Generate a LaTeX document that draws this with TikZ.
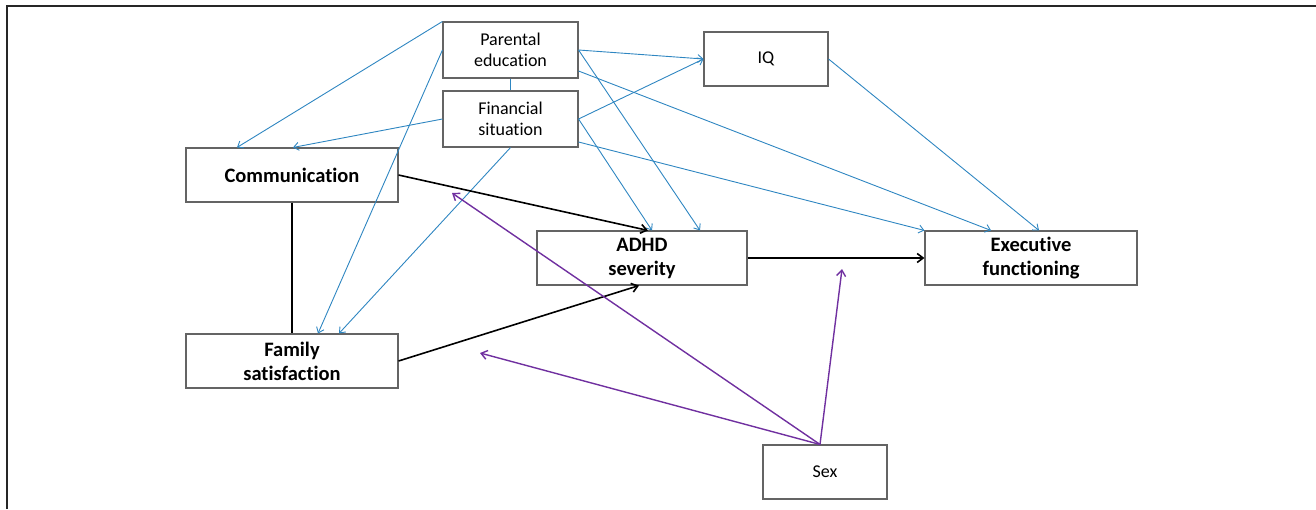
\documentclass[tikz,border=0pt]{standalone}
\usepackage{fontspec}
\setmainfont[Ligatures=NoCommon]{Carlito}
\usetikzlibrary{arrows.meta,calc}
\definecolor{lnblue}{RGB}{46,134,193}
\definecolor{lnpurple}{RGB}{112,48,160}
\definecolor{boxgray}{RGB}{100,100,100}
\begin{document}
\begin{tikzpicture}[x=1pt,y=-1pt,
  varbox/.style={draw=boxgray,line width=1.1pt,align=center,inner sep=0pt},
  regtext/.style={font=\fontsize{18}{21}\selectfont},
  boldtext/.style={font=\fontsize{20.5}{24}\selectfont\bfseries},
  bluearrow/.style={draw=lnblue,line width=0.9pt,-{Straight Barb[length=5pt,width=8pt]}},
  blueline/.style={draw=lnblue,line width=1.4pt},
  blackarrow/.style={draw=black,line width=1.6pt,-{Straight Barb[length=6pt,width=9pt]}},
  blackline/.style={draw=black,line width=1.4pt},
  purplearrow/.style={draw=lnpurple,line width=1.4pt,-{Straight Barb[length=6pt,width=9pt]}},
  frameline/.style={draw=black!85,line width=2pt}]
\useasboundingbox (0,0) rectangle (1316,509);
\draw[frameline] (7,509) -- (7,6) -- (1316,6);

\node[varbox,regtext,minimum width=135,minimum height=56] (pe) at (510.5,50) {Parental\\education};
\node[varbox,regtext,minimum width=135,minimum height=56] (fs) at (510.5,119) {Financial\\situation};
\node[varbox,regtext,minimum width=124,minimum height=54] (iq) at (766,59) {IQ};
\node[varbox,boldtext,minimum width=212,minimum height=54] (com) at (292,175) {Communication};
\node[varbox,boldtext,minimum width=210,minimum height=54] (adhd) at (642,258) {ADHD\\severity};
\node[varbox,boldtext,minimum width=212,minimum height=54] (ef) at (1031,258) {Executive\\functioning};
\node[varbox,boldtext,minimum width=212,minimum height=54] (fam) at (292,361) {Family\\satisfaction};
\node[varbox,regtext,minimum width=124,minimum height=54] (sex) at (825,472) {Sex};

% blue paths
\draw[blueline] (pe.south) -- (fs.north);
\draw[bluearrow] (pe.north west) -- ([xshift=-55pt]com.north);
\draw[bluearrow] (pe.west) -- ([xshift=26pt]fam.north);
\draw[bluearrow] (fs.west) -- ([xshift=1pt]com.north);
\draw[bluearrow] (fs.south) -- ([xshift=47pt]fam.north);
\draw[bluearrow] (pe.east) -- (iq.west);
\draw[bluearrow] (pe.east) -- ([xshift=58pt]adhd.north);
\draw[bluearrow] ([yshift=-21pt]pe.east) -- ([xshift=-40pt]ef.north);
\draw[bluearrow] (fs.east) -- (iq.west);
\draw[bluearrow] (fs.east) -- ([xshift=10pt]adhd.north);
\draw[bluearrow] ([yshift=-23pt]fs.east) -- (ef.north west);
\draw[bluearrow] (iq.east) -- ([xshift=8pt]ef.north);

% black paths
\draw[blackline] (com.south) -- (fam.north);
\draw[blackarrow] (com.east) -- ([xshift=6pt]adhd.north);
\draw[blackarrow] (fam.east) -- ([xshift=-3pt]adhd.south);
\draw[blackarrow] (adhd.east) -- (ef.west);

% purple paths
\coordinate (sextop) at ([xshift=-5pt]sex.north);
\coordinate (pA) at (452,193);
\coordinate (pB) at (480,353);
\coordinate (pC) at (842,269);
\draw[purplearrow] (sextop) -- (pA);
\draw[purplearrow] (sextop) -- (pB);
\draw[purplearrow] (sextop) -- (pC);
\end{tikzpicture}
\end{document}
